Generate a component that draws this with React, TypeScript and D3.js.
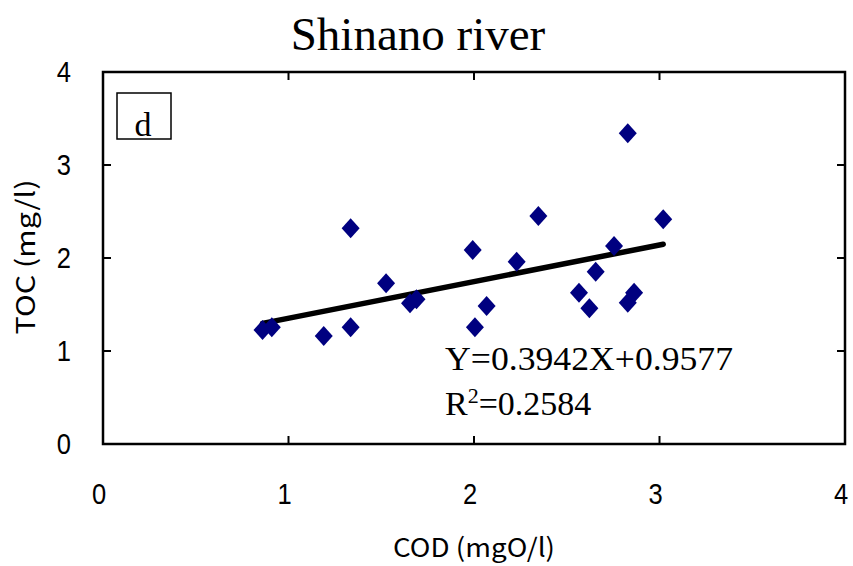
import React from "react";
import * as d3 from "d3";

const codValues = [0.86, 0.91, 1.19, 1.335, 1.335, 1.526, 1.655, 1.69, 1.993, 2.005, 2.068, 2.23, 2.347, 2.566, 2.622, 2.656, 2.755, 2.829, 2.829, 2.863, 3.02];
const tocValues = [1.226, 1.255, 1.161, 1.255, 2.319, 1.728, 1.513, 1.556, 2.086, 1.255, 1.484, 1.96, 2.452, 1.627, 1.459, 1.853, 2.129, 3.341, 1.519, 1.627, 2.416];
const xTicks = [0, 1, 2, 3, 4];
const yTicks = [0, 1, 2, 3, 4];
const slope = 0.3942;
const intercept = 0.9577;
const titleText = "Shinano river";
const xLabel = "COD (mgO/l)";
const yLabel = "TOC (mg/l)";
const panelLabel = "d";

export default function App() {
  const W = 853, H = 566;
  const left = 103, right = 845, top = 72, bottom = 444;
  const x = d3.scaleLinear().domain([0, 4]).range([left, right]);
  const y = d3.scaleLinear().domain([0, 4]).range([bottom, top]);
  const pts = codValues.map((c, i) => ({ c, t: tocValues[i] }));
  const xMin = d3.min(codValues)!;
  const xMax = d3.max(codValues)!;
  const line = d3.line<number>().x((d) => x(d)).y((d) => y(slope * d + intercept));
  const hw = 9, hh = 10;
  const diamond = `M0,${-hh}L${hw},0L0,${hh}L${-hw},0Z`;
  const inner = [1, 2, 3];
  const tickLen = 8;
  const serif = "'Liberation Serif', 'Times New Roman', serif";
  const sans = "'Liberation Sans', Arial, sans-serif";
  const cjk = "'Noto Sans CJK JP', 'Noto Sans', sans-serif";

  return (
    <svg width={W} height={H} style={{ position: "absolute", left: 0, top: 0, background: "#fff" }}>
      <rect x={0} y={0} width={W} height={H} fill="#fff" />
      <text x={418} y={50} textAnchor="middle" fontFamily={serif} fontSize={47} fill="#000">{titleText}</text>

      <rect x={left} y={top} width={right - left} height={bottom - top} fill="none" stroke="#000" strokeWidth={2.5} />
      {inner.map((v) => (
        <g key={"t" + v} stroke="#000" strokeWidth={2}>
          <line x1={left} x2={left + tickLen} y1={y(v)} y2={y(v)} />
          <line x1={right} x2={right - tickLen} y1={y(v)} y2={y(v)} />
          <line x1={x(v)} x2={x(v)} y1={bottom} y2={bottom - tickLen} />
          <line x1={x(v)} x2={x(v)} y1={top} y2={top + tickLen} />
        </g>
      ))}

      {yTicks.map((v) => (
        <text key={"yl" + v} x={71} y={y(v) + 10} textAnchor="end" fontFamily={sans} fontSize={29} fill="#000" transform={`translate(71,0) scale(0.88,1) translate(-71,0)`}>{v}</text>
      ))}
      {xTicks.map((v) => (
        <text key={"xl" + v} x={x(v) - 4} y={504} textAnchor="middle" fontFamily={sans} fontSize={29} fill="#000" transform={`translate(${x(v) - 4},0) scale(0.88,1) translate(${-(x(v) - 4)},0)`}>{v}</text>
      ))}

      <text x={474} y={557} textAnchor="middle" fontFamily={cjk} fontSize={26} textLength={162} lengthAdjust="spacingAndGlyphs" fill="#000">{xLabel}</text>
      <text transform="translate(35,257) rotate(-90)" textAnchor="middle" fontFamily={cjk} fontSize={26} textLength={155} lengthAdjust="spacingAndGlyphs" fill="#000">{yLabel}</text>

      <rect x={117} y={93} width={54} height={46} fill="#fff" stroke="#000" strokeWidth={1.5} />
      <text x={143} y={136} textAnchor="middle" fontFamily={serif} fontSize={34} fill="#000">{panelLabel}</text>

      <path d={line([xMin, xMax]) || ""} stroke="#000" strokeWidth={5.5} fill="none" strokeLinecap="round" />

      {pts.map((p, i) => (
        <path key={i} d={diamond} transform={`translate(${x(p.c)},${y(p.t)})`} fill="#000080" />
      ))}

      <text x={445} y={370} fontFamily={serif} fontSize={34} fill="#000" textLength={288} lengthAdjust="spacingAndGlyphs">{`Y=${slope}X+${intercept}`}</text>
      <text x={445} y={415} fontFamily={serif} fontSize={34} fill="#000">
        R<tspan fontSize={22} dy={-12}>2</tspan><tspan dy={12}>=0.2584</tspan>
      </text>
    </svg>
  );
}
